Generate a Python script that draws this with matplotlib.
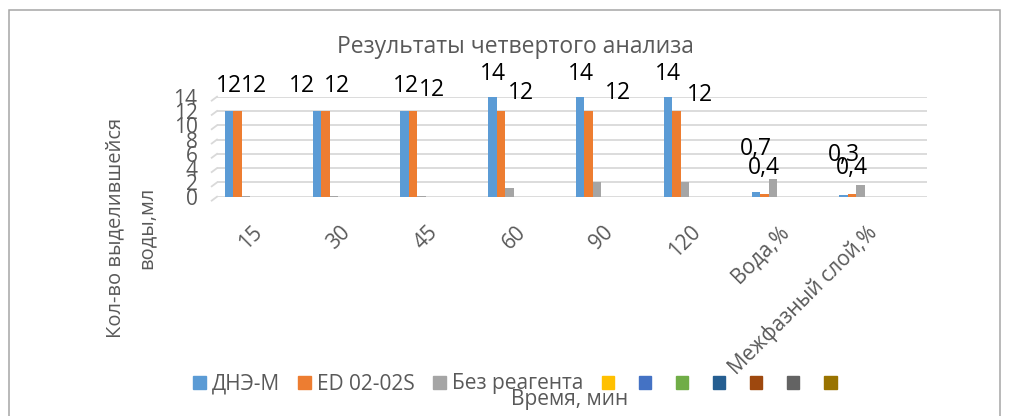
import matplotlib
matplotlib.use('Agg')
import matplotlib.pyplot as plt
import matplotlib.transforms as mtransforms
from matplotlib.patches import Rectangle
import numpy as np

# ---------------- data ----------------
categories = ['15', '30', '45', '60', '90', '120', 'Вода,%', 'Межфазный слой,%']
dne_m = [12, 12, 12, 14, 14, 14, 0.7, 0.3]
ed_0202s = [12, 12, 12, 12, 12, 12, 0.4, 0.4]
bez_reagenta = [0.1, 0.1, 0.1, 1.2, 2.1, 2.1, 2.5, 1.6]
series_names = ['ДНЭ-М', 'ED 02-02S', 'Без реагента']
y_ticks = [0, 2, 4, 6, 8, 10, 12, 14]
title_text = 'Результаты четвертого анализа'
x_title = 'Время, мин'
y_title = 'Кол-во выделившейся\nводы,мл'

# ---------------- style ----------------
plt.rcParams['font.family'] = ['Open Sans', 'DejaVu Sans']
W, H = 1009, 416
DPI = 100
GRAY_TXT = '#595959'
colors = ['#5B9BD5', '#ED7D31', '#A5A5A5']
extra_legend_colors = ['#FFC000', '#4472C4', '#70AD47', '#255E91',
                       '#9E480E', '#636363', '#997300']
bar_w = 0.097
# label offsets in pixels (dx right, dy up) relative to bar top
dne_label_off = [(0, 25), (-15, 25), (1, 25), (1, 23), (1, 23), (0, 23), (0, 43), (0, 40)]
ed_label_off = [(16, 25), (12, 25), (19, 21), (20, 18), (29, 18), (23, 16), (0, 26), (0, 26)]

fig = plt.figure(figsize=(W / DPI, H / DPI), dpi=DPI)
fig.patch.set_facecolor('white')

def px(x, y):
    return x / W, 1 - y / H

# outer frame
fig.patches.append(Rectangle((8.5 / W, -0.02), (1000 - 8.5) / W, 1 - 9.5 / H + 0.02,
                             transform=fig.transFigure, fill=False,
                             edgecolor='#A6A6A6', linewidth=1.1))

ax_left, ax_right, ax_top, ax_bot = 217, 927, 96.7, 196.7
ax = fig.add_axes([ax_left / W, 1 - ax_bot / H, (ax_right - ax_left) / W, (ax_bot - ax_top) / H])
ax.set_facecolor('none')

x = np.arange(len(categories))
series = [dne_m, ed_0202s, bez_reagenta]
offsets = [-bar_w, 0, bar_w]
for vals, c, off, name in zip(series, colors, offsets, series_names):
    ax.bar(x + off, vals, width=bar_w, color=c, label=name, zorder=3, linewidth=0)

def fmt(v):
    return ('%g' % v).replace('.', ',')

for vals, off, offs in [(dne_m, -bar_w, dne_label_off), (ed_0202s, 0, ed_label_off)]:
    for xi, v, (dx, dy) in zip(x, vals, offs):
        ax.annotate(fmt(v), xy=(xi + off, v), xytext=(dx * 0.72, dy * 0.72),
                    textcoords='offset points', ha='center', va='center',
                    fontsize=16.5, color='black', zorder=5, annotation_clip=False)

xl = (ax_left - 237.5) / 87.8
ax.set_xlim(xl, (ax_right - 237.5) / 87.8)
ax.set_ylim(0, 14)
ax.set_yticks(y_ticks)
ax.set_yticklabels([str(t) for t in y_ticks], color=GRAY_TXT, fontsize=15)
ax.grid(axis='y', color='#D9D9D9', linewidth=1.3, zorder=0)
ax.grid(axis='x', visible=False)
# small slanted floor edges at the left of gridlines (3-D look)
for t in y_ticks:
    ax.plot([xl - 0.06, xl], [t - 0.55, t], color='#D9D9D9', linewidth=1.3,
            clip_on=False, zorder=0)
for s in ax.spines.values():
    s.set_visible(False)
ax.tick_params(axis='y', length=0, pad=14)
ax.tick_params(axis='x', length=0, pad=18)

ax.set_xticks(x)
ax.set_xticklabels(categories, rotation=45, ha='right', va='top',
                   rotation_mode='anchor', color=GRAY_TXT, fontsize=15)
shift = mtransforms.ScaledTranslation(14 / DPI, 0, fig.dpi_scale_trans)
for lab in ax.get_xticklabels():
    lab.set_transform(lab.get_transform() + shift)

# titles
fig.text(*px(515, 47), title_text, ha='center', va='center', fontsize=16.5, color=GRAY_TXT)
fig.text(*px(570, 399), x_title, ha='center', va='center', fontsize=15, color=GRAY_TXT)
fig.text(*px(131, 228), y_title, ha='center', va='center', rotation=90,
         fontsize=14.5, color=GRAY_TXT, linespacing=1.7, multialignment='center')

# legend
handles = [Rectangle((0, 0), 1, 1, color=c) for c in colors + extra_legend_colors]
labels = series_names + [''] * len(extra_legend_colors)
fig.legend(handles, labels, loc='center left', bbox_to_anchor=px(193, 384),
           ncol=len(handles), frameon=False, fontsize=15, handlelength=0.6,
           handleheight=0.6, handletextpad=0.3, columnspacing=0.88,
           borderpad=0, borderaxespad=0, labelcolor=GRAY_TXT)

fig.savefig('out.png', dpi=DPI, facecolor='white')
